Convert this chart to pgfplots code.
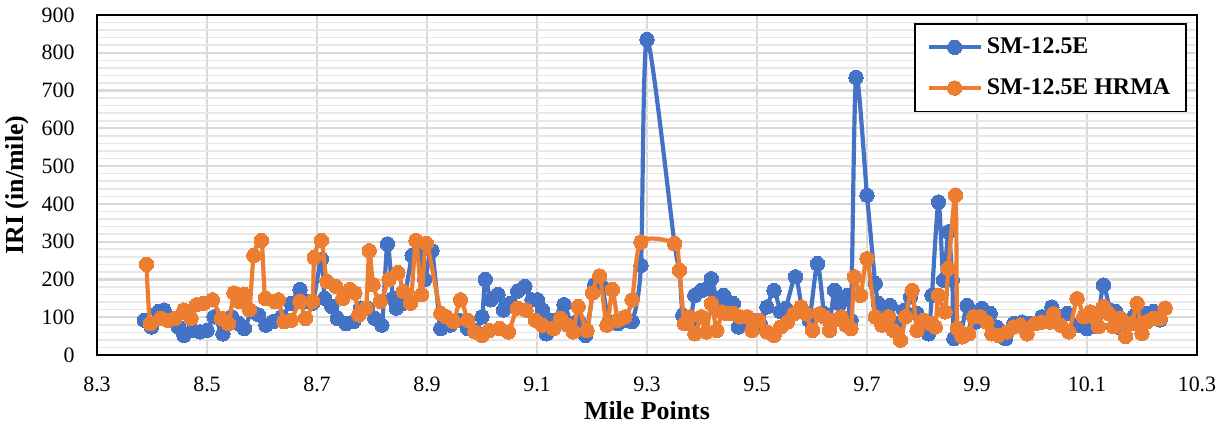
\documentclass[border=0pt]{standalone}
\usepackage{fontspec}
\setmainfont{Liberation Serif}
\usepackage{pgfplots}
\pgfplotsset{compat=1.18}
\definecolor{xlblue}{HTML}{4472C4}
\definecolor{xlorange}{HTML}{ED7D31}
\definecolor{gridmaj}{HTML}{D9D9D9}
\definecolor{gridmin}{HTML}{E8E8E8}

\begin{document}
\begin{tikzpicture}
\begin{axis}[
    scale only axis,
    width=550bp, height=170bp,
    xmin=8.3, xmax=10.3, ymin=0, ymax=900,
    xtick={8.3,8.5,8.7,8.9,9.1,9.3,9.5,9.7,9.9,10.1,10.3},
    xticklabels={8.3,8.5,8.7,8.9,9.1,9.3,9.5,9.7,9.9,10.1,10.3},
    ytick={0,100,...,900},
    minor y tick num=4,
    major tick length=0pt, minor tick length=0pt,
    xmajorgrids, ymajorgrids, yminorgrids,
    major grid style={draw=gridmaj, line width=1.1bp},
    minor grid style={draw=gridmin, line width=0.8bp},
    axis line style={draw=black, line width=1.1bp},
    /pgf/number format/assume math mode=true,
    tick label style={font=\fontsize{11}{13}\selectfont, text=black},
    yticklabel style={inner sep=0pt, anchor=east, xshift=-11bp},
    xticklabel style={inner sep=0pt, anchor=north, yshift=-11bp},
    xlabel={Mile Points}, ylabel={IRI (in/mile)},
    label style={font=\fontsize{13}{15}\selectfont\bfseries},
    xlabel style={at={(axis description cs:0.5,-0.165)}, anchor=center, inner sep=0pt},
    ylabel style={at={(axis description cs:-0.0727,0.5)}, anchor=center, inner sep=0pt, rotate=0},
    legend style={at={(1,1)}, anchor=north east, xshift=-5bp, yshift=-4bp,
        draw=black, line width=0.9bp, font=\fontsize{12}{14}\selectfont\bfseries,
        inner xsep=6bp, inner ysep=5bp, row sep=7bp, cells={anchor=west}},
    legend image code/.code={\draw[mark repeat=2, mark phase=2] plot coordinates {(0bp,0bp) (13bp,0bp) (26bp,0bp)};},
    legend cell align=left,
    clip mode=individual,
]
\coordinate (sw) at (rel axis cs:0,0);
\coordinate (ne) at (rel axis cs:1,1);

\addplot[xlblue, line width=2.1bp, smooth, tension=0.45, mark=*, mark size=3.6bp,
  mark options={fill=xlblue, draw=xlblue, line width=0pt}] coordinates {
(8.386,92) (8.399,74) (8.412,115) (8.422,119) (8.435,92) (8.448,74) (8.458,52)
(8.474,65) (8.487,61) (8.500,65) (8.513,101) (8.529,56) (8.545,101) (8.558,83)
(8.568,70) (8.581,115) (8.594,106) (8.607,79) (8.620,88) (8.636,101) (8.653,137)
(8.669,173) (8.679,142) (8.692,137) (8.708,254) (8.714,150) (8.727,128) (8.737,97)
(8.753,83) (8.766,88) (8.779,124) (8.792,124) (8.805,97) (8.818,79) (8.828,294)
(8.838,150) (8.844,124) (8.857,137) (8.873,263) (8.886,280) (8.896,200) (8.909,276)
(8.925,70) (8.942,79) (8.958,92) (8.974,70) (8.987,65) (9.000,101) (9.006,200)
(9.016,146) (9.029,160) (9.039,119) (9.052,137) (9.065,169) (9.078,182) (9.091,146)
(9.101,146) (9.110,119) (9.117,56) (9.130,92) (9.149,133) (9.162,83) (9.175,92)
(9.188,52) (9.205,186) (9.218,182) (9.231,88) (9.247,83) (9.260,92) (9.273,88)
(9.289,237) (9.300,835) (9.350,295) (9.359,224) (9.365,105) (9.378,90) (9.387,158)
(9.399,171) (9.408,175) (9.417,202) (9.427,150) (9.439,158) (9.448,140) (9.457,136)
(9.466,74) (9.482,83) (9.494,92) (9.506,83) (9.518,127) (9.531,171) (9.543,114)
(9.552,123) (9.570,207) (9.583,114) (9.595,92) (9.610,242) (9.622,110) (9.632,90)
(9.641,171) (9.650,136) (9.665,158) (9.671,92) (9.680,735) (9.700,423) (9.715,189)
(9.721,136) (9.730,127) (9.742,131) (9.755,83) (9.767,118) (9.779,154) (9.791,110)
(9.803,80) (9.812,56) (9.818,158) (9.830,405) (9.839,198) (9.848,326) (9.855,198)
(9.858,43) (9.870,52) (9.882,131) (9.897,87) (9.909,123) (9.924,110) (9.936,74)
(9.952,43) (9.967,83) (9.982,87) (9.997,83) (10.018,101) (10.036,127) (10.052,101)
(10.064,110) (10.085,79) (10.100,70) (10.109,75) (10.121,110) (10.130,185)
(10.142,119) (10.152,115) (10.161,71) (10.173,84) (10.185,102) (10.197,84)
(10.209,110) (10.221,115) (10.233,93) (10.242,124)
};
\addlegendentry{SM-12.5E}

\addplot[xlorange, line width=2.1bp, smooth, tension=0.45, mark=*, mark size=3.6bp,
  mark options={fill=xlorange, draw=xlorange, line width=0pt}] coordinates {
(8.390,240) (8.397,83) (8.416,97) (8.429,92) (8.442,97) (8.458,119) (8.471,97)
(8.481,133) (8.494,137) (8.510,146) (8.526,97) (8.539,83) (8.549,164) (8.558,142)
(8.568,160) (8.577,120) (8.585,263) (8.599,303) (8.606,150) (8.623,142) (8.630,146)
(8.640,88) (8.653,92) (8.669,142) (8.679,97) (8.692,142) (8.695,258) (8.708,303)
(8.718,195) (8.734,182) (8.747,150) (8.760,173) (8.769,164) (8.776,106) (8.789,124)
(8.795,276) (8.802,186) (8.815,142) (8.831,200) (8.847,218) (8.857,168) (8.870,137)
(8.880,303) (8.890,160) (8.899,295) (8.925,110) (8.935,101) (8.948,88) (8.961,146)
(8.974,92) (8.987,61) (9.000,52) (9.013,65) (9.032,70) (9.048,61) (9.064,124)
(9.080,119) (9.097,92) (9.110,79) (9.130,70) (9.143,97) (9.156,79) (9.166,61)
(9.175,128) (9.191,65) (9.201,164) (9.214,209) (9.227,79) (9.237,173) (9.247,92)
(9.260,101) (9.273,146) (9.289,299) (9.350,295) (9.359,224) (9.368,83) (9.378,101)
(9.387,56) (9.399,101) (9.408,61) (9.417,136) (9.427,65) (9.436,114) (9.445,110)
(9.457,110) (9.469,101) (9.482,101) (9.491,65) (9.503,92) (9.518,61) (9.531,52)
(9.543,74) (9.555,87) (9.567,109) (9.580,127) (9.589,109) (9.601,65) (9.613,109)
(9.622,101) (9.632,65) (9.641,92) (9.653,101) (9.662,79) (9.671,70) (9.677,207)
(9.688,158) (9.700,255) (9.715,101) (9.727,79) (9.739,101) (9.748,65) (9.761,39)
(9.770,101) (9.782,171) (9.791,65) (9.803,92) (9.815,83) (9.824,74) (9.830,158)
(9.842,114) (9.848,229) (9.861,423) (9.864,70) (9.873,48) (9.885,56) (9.894,101)
(9.906,101) (9.918,87) (9.927,56) (9.939,52) (9.955,61) (9.967,74) (9.979,79)
(9.991,56) (10.006,83) (10.018,87) (10.033,87) (10.039,109) (10.052,79) (10.067,61)
(10.082,149) (10.094,101) (10.106,114) (10.112,102) (10.121,75) (10.130,128)
(10.139,110) (10.148,75) (10.161,97) (10.170,49) (10.182,84) (10.191,137)
(10.200,57) (10.209,88) (10.221,97) (10.233,97) (10.242,124)
};
\addlegendentry{SM-12.5E HRMA}
\end{axis}
\pgfresetboundingbox
\path ([shift={(-48.5bp,-38.5bp)}]sw) rectangle ([shift={(15.5bp,7.5bp)}]ne);
\end{tikzpicture}
\end{document}
